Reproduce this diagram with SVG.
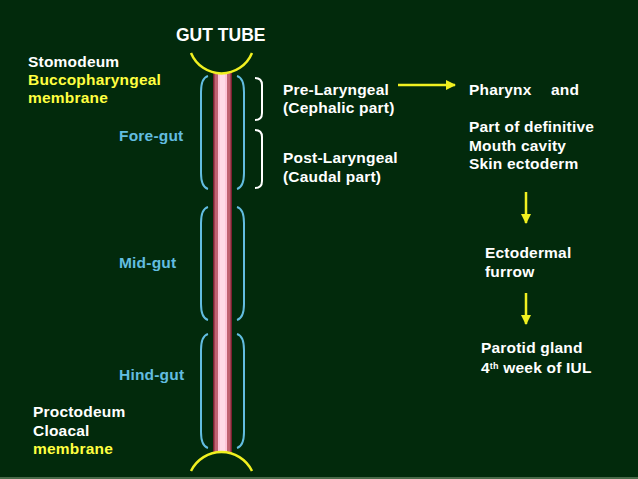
<svg xmlns="http://www.w3.org/2000/svg" width="638" height="479" viewBox="0 0 638 479">
<defs>
<style>
text{font-family:"Liberation Sans",Arial,sans-serif;font-weight:bold;font-size:15.5px;letter-spacing:0.2px;fill:#ffffff}
.y{fill:#ffff40}
.c{fill:#62bde0}
.par{fill:none;stroke:#62bde0;stroke-width:2}
.br{fill:none;stroke:#ffffff;stroke-width:2}
.arc{fill:none;stroke:#f0f020;stroke-width:2.5}
.ar{stroke:#f0f020;stroke-width:2.5;fill:none}
</style>
<marker id="ah" viewBox="0 0 10 10" refX="9" refY="5" markerWidth="4" markerHeight="4" orient="auto" markerUnits="strokeWidth">
<path d="M0,0 L10,5 L0,10 Z" fill="#f0f020"/>
</marker>
</defs>
<rect width="638" height="479" fill="#022a0c"/>
<rect x="0" y="477" width="638" height="2" fill="#4a6a4a"/>

<g id="title"><text x="176" y="41" style="font-size:17.5px;letter-spacing:0">GUT TUBE</text></g>

<g id="tube">
<rect x="213" y="73" width="19" height="380" fill="#c06372"/>
<rect x="213" y="73" width="1.5" height="380" fill="#7a2030"/>
<rect x="230.5" y="73" width="1.5" height="380" fill="#7a2030"/>
<rect x="218" y="73" width="9" height="380" fill="#ffc6da"/>
<rect x="220" y="73" width="5" height="380" fill="#ffdbe8"/>
</g>

<g id="stomodeum-arc"><path class="arc" d="M191,53 A33,33 0 0 0 252,53"/></g>
<g id="proctodeum-arc"><path class="arc" d="M191,471 A34,34 0 0 1 252,471"/></g>

<g id="foregut-brackets">
<path class="par" d="M208,76 Q201,78 201,92 L201,173 Q201,187 208,189"/>
<path class="par" d="M237,76 Q244,78 244,92 L244,173 Q244,187 237,189"/>
</g>
<g id="midgut-brackets">
<path class="par" d="M208,207 Q201,209 201,223 L201,304 Q201,318 208,320"/>
<path class="par" d="M237,207 Q244,209 244,223 L244,304 Q244,318 237,320"/>
</g>
<g id="hindgut-brackets">
<path class="par" d="M208,334 Q201,336 201,350 L201,432 Q201,446 208,448"/>
<path class="par" d="M237,334 Q244,336 244,350 L244,432 Q244,446 237,448"/>
</g>

<g id="pre-bracket"><path class="br" d="M255,78 Q262,78 262,85 L262,113 Q262,120 255,120"/></g>
<g id="post-bracket"><path class="br" d="M255,130 Q262,130 262,137 L262,181 Q262,188 255,188"/></g>

<g id="stomodeum">
<text x="28" y="67">Stomodeum</text>
<text x="28" y="85" class="y">Buccopharyngeal</text>
<text x="28" y="103" class="y">membrane</text>
</g>
<g id="foregut"><text x="119" y="141" class="c">Fore-gut</text></g>
<g id="midgut"><text x="119" y="268" class="c">Mid-gut</text></g>
<g id="hindgut"><text x="119" y="380" class="c">Hind-gut</text></g>
<g id="proctodeum">
<text x="33" y="417">Proctodeum</text>
<text x="33" y="436">Cloacal</text>
<text x="33" y="454" class="y">membrane</text>
</g>

<g id="prelaryngeal">
<text x="283" y="95">Pre-Laryngeal</text>
<text x="283" y="113">(Cephalic part)</text>
</g>
<g id="postlaryngeal">
<text x="283" y="163">Post-Laryngeal</text>
<text x="283" y="182">(Caudal part)</text>
</g>
<g id="pharynx">
<text x="469" y="95">Pharynx</text>
<text x="551" y="95">and</text>
<text x="469" y="132">Part of definitive</text>
<text x="469" y="151">Mouth cavity</text>
<text x="469" y="169">Skin ectoderm</text>
</g>
<g id="ectodermal">
<text x="485" y="258">Ectodermal</text>
<text x="485" y="277">furrow</text>
</g>
<g id="parotid">
<text x="481" y="353">Parotid gland</text>
<text x="481" y="373">4<tspan dy="-4" style="font-size:9px">th</tspan><tspan dy="4"> week of IUL</tspan></text>
</g>

<g id="connectors">
<line class="ar" x1="398" y1="85" x2="455" y2="85" marker-end="url(#ah)"/>
<line class="ar" x1="526" y1="192" x2="526" y2="223" marker-end="url(#ah)"/>
<line class="ar" x1="526" y1="293" x2="526" y2="324" marker-end="url(#ah)"/>
</g>
</svg>
